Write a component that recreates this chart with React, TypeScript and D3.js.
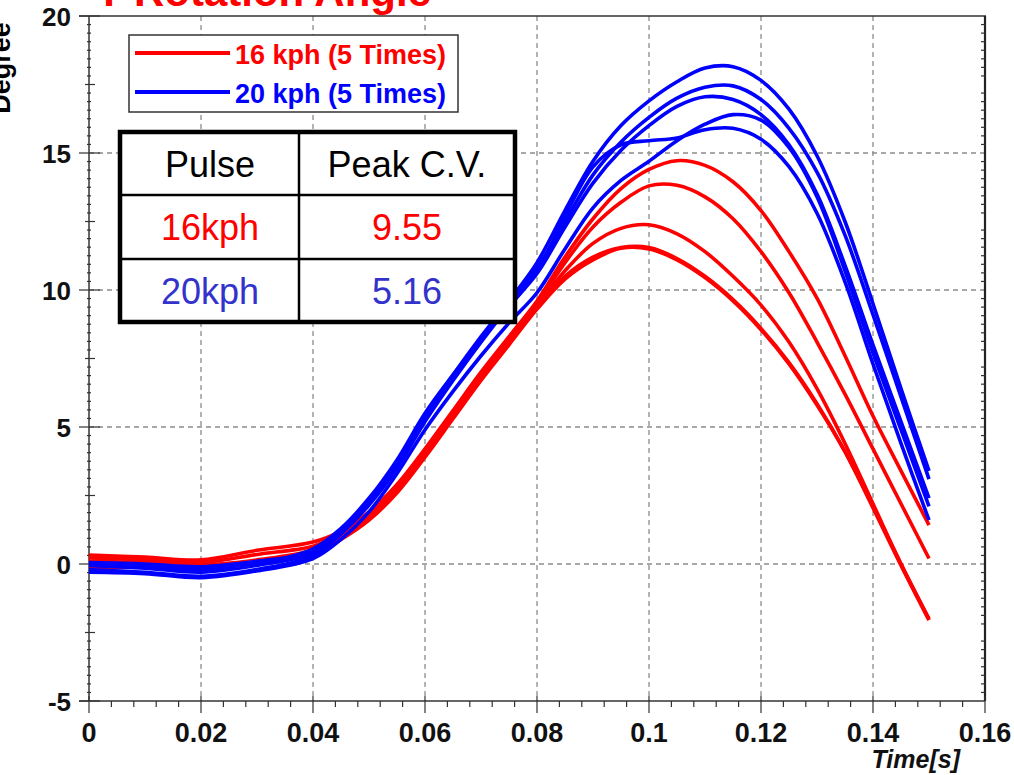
import { useEffect, useRef } from "react";
import * as d3 from "d3";

// time samples (s) shared by every run
const times = [0, 0.01, 0.02, 0.03, 0.04, 0.045, 0.05, 0.055, 0.06, 0.065, 0.07, 0.075, 0.08, 0.085, 0.09, 0.095, 0.1, 0.105, 0.11, 0.115, 0.12, 0.125, 0.13, 0.135, 0.14, 0.145, 0.15];

// 16 kph runs (degree)
const red1 = [0.33, 0.25, 0.15, 0.5, 0.8, 1.2, 1.9, 2.9, 4.2, 5.6, 7.0, 8.3, 9.6, 11.2, 12.6, 13.7, 14.4, 14.72, 14.55, 13.95, 12.9, 11.4, 9.7, 7.6, 5.4, 3.4, 1.42];
const red2 = [0.22, 0.15, 0.05, 0.35, 0.65, 1.1, 1.8, 2.8, 4.1, 5.5, 6.9, 8.2, 9.5, 11.0, 12.3, 13.2, 13.8, 13.82, 13.4, 12.6, 11.4, 9.9, 8.1, 6.2, 4.2, 2.2, 0.2];
const red3 = [0.1, 0.05, -0.05, 0.15, 0.5, 1.0, 1.7, 2.7, 4.0, 5.4, 6.8, 8.1, 9.4, 10.7, 11.7, 12.25, 12.38, 12.05, 11.4, 10.5, 9.45, 8.1, 6.4, 4.4, 2.2, 0.0, -2.0];
const red4 = [0.0, -0.05, -0.1, 0.1, 0.4, 0.9, 1.6, 2.6, 3.9, 5.3, 6.7, 8.0, 9.3, 10.4, 11.1, 11.52, 11.5, 11.1, 10.45, 9.6, 8.55, 7.3, 5.8, 4.1, 2.1, 0.0, -2.02];
const red5 = [-0.15, -0.1, -0.05, 0.1, 0.45, 0.95, 1.65, 2.65, 3.95, 5.35, 6.75, 8.05, 9.35, 10.5, 11.2, 11.55, 11.55, 11.15, 10.5, 9.65, 8.6, 7.35, 5.85, 4.1, 2.05, -0.05, -2.05];

// 20 kph runs (degree)
const blue1 = [0.05, 0.0, -0.1, 0.1, 0.45, 1.2, 2.3, 3.7, 5.4, 6.9, 8.3, 9.6, 11.0, 12.9, 14.7, 16.0, 16.9, 17.6, 18.1, 18.15, 17.65, 16.6, 14.9, 12.5, 9.5, 6.4, 3.4];
const blue2 = [-0.05, -0.15, -0.3, -0.05, 0.4, 1.15, 2.2, 3.6, 5.3, 6.8, 8.2, 9.5, 10.8, 12.5, 14.2, 15.4, 16.3, 17.0, 17.4, 17.45, 16.95, 15.9, 14.3, 12.0, 9.1, 6.1, 3.1];
const blue3 = [-0.2, -0.3, -0.45, -0.2, 0.3, 1.1, 2.15, 3.5, 5.2, 6.7, 8.1, 9.4, 10.6, 12.3, 13.9, 15.1, 16.0, 16.7, 17.05, 16.95, 16.4, 15.3, 13.5, 10.9, 8.0, 5.2, 2.4];
const blue4 = [-0.3, -0.35, -0.5, -0.25, 0.2, 0.9, 1.9, 3.3, 4.9, 6.3, 7.6, 8.8, 9.9, 11.5, 13.0, 14.0, 14.7, 15.45, 16.05, 16.4, 16.2, 15.2, 13.4, 10.7, 7.7, 4.9, 2.1];
const blue5 = [0.0, -0.1, -0.2, 0.0, 0.55, 1.3, 2.4, 3.8, 5.5, 6.9, 8.2, 9.4, 10.7, 12.7, 14.5, 15.3, 15.45, 15.55, 15.85, 15.9, 15.5, 14.5, 12.8, 10.3, 7.3, 4.4, 1.6];

const xTicks = [0, 0.02, 0.04, 0.06, 0.08, 0.1, 0.12, 0.14, 0.16];
const xTickLabels = ["0", "0.02", "0.04", "0.06", "0.08", "0.1", "0.12", "0.14", "0.16"];
const yTicks = [-5, 0, 5, 10, 15, 20];
const yTickLabels = ["-5", "0", "5", "10", "15", "20"];

const legendLabels = ["16 kph (5 Times)", "20 kph (5 Times)"];
const tableHeader = ["Pulse", "Peak C.V."];
const tablePulse = ["16kph", "20kph"];
const tableCV = ["9.55", "5.16"];

const FONT = "'Liberation Sans', Arial, sans-serif";

const App = () => {
    const svgRef = useRef<SVGSVGElement>(null);

    useEffect(() => {
        const svg = d3.select(svgRef.current);
        svg.selectAll("*").remove();

        const x = d3.scaleLinear().domain([0, 0.16]).range([89, 985]);
        const y = d3.scaleLinear().domain([-5, 20]).range([701, 16]);

        svg.append("rect").attr("width", 1014).attr("height", 775).attr("fill", "#fff");

        // title (cut off at the top like the original)
        svg.append("text")
            .attr("x", 95).attr("y", 6)
            .attr("font-family", FONT).attr("font-weight", "bold").attr("font-size", 42)
            .attr("fill", "#ff0000")
            .text("Y Rotation Angle");

        // y label
        svg.append("text")
            .attr("transform", "translate(10,68) rotate(-90)")
            .attr("text-anchor", "middle")
            .attr("font-family", FONT).attr("font-weight", "bold").attr("font-size", 27)
            .attr("fill", "#000")
            .text("Degree");

        // grid
        const grid = svg.append("g").attr("stroke", "#8c8c8c").attr("stroke-width", 1.3).attr("stroke-dasharray", "5,4");
        grid.selectAll("line.gx")
            .data(xTicks.slice(1, -1))
            .join("line")
            .attr("x1", d => x(d)).attr("x2", d => x(d))
            .attr("y1", y(20)).attr("y2", y(-5));
        grid.selectAll("line.gy")
            .data([0, 5, 10, 15])
            .join("line")
            .attr("class", "gy")
            .attr("x1", x(0)).attr("x2", x(0.16))
            .attr("y1", d => y(d)).attr("y2", d => y(d));

        // frame
        const frame = svg.append("g").attr("stroke", "#333");
        frame.append("line").attr("x1", 89).attr("x2", 89).attr("y1", y(20)).attr("y2", y(-5)).attr("stroke-width", 1.5);
        frame.append("line").attr("x1", 79).attr("x2", x(0.16)).attr("y1", y(-5)).attr("y2", y(-5)).attr("stroke-width", 1.5);
        frame.append("line").attr("x1", 79).attr("x2", x(0.16) + 1).attr("y1", y(20)).attr("y2", y(20)).attr("stroke-width", 1.5);
        frame.append("line").attr("x1", x(0.16)).attr("x2", x(0.16)).attr("y1", y(20)).attr("y2", y(-5)).attr("stroke-width", 2.2).attr("stroke", "#222");

        // y ticks
        const minorY = d3.range(-5, 20.0001, 0.3125).filter(v => Math.abs(v / 2.5 - Math.round(v / 2.5)) > 1e-6);
        const midY = [-2.5, 2.5, 7.5, 12.5, 17.5];
        const ticks = svg.append("g").attr("stroke", "#333").attr("stroke-width", 1.2);
        ticks.selectAll("line.ym").data(yTicks).join("line").attr("class", "ym")
            .attr("x1", 79).attr("x2", 100).attr("y1", d => y(d)).attr("y2", d => y(d));
        ticks.selectAll("line.yh").data(midY).join("line").attr("class", "yh")
            .attr("x1", 85).attr("x2", 95).attr("y1", d => y(d)).attr("y2", d => y(d));
        ticks.selectAll("line.yn").data(minorY).join("line").attr("class", "yn")
            .attr("x1", 87).attr("x2", 91).attr("y1", d => y(d)).attr("y2", d => y(d));
        ticks.selectAll("line.yr").data(minorY).join("line").attr("class", "yr")
            .attr("x1", x(0.16) - 4).attr("x2", x(0.16)).attr("y1", d => y(d)).attr("y2", d => y(d));

        // x ticks
        const minorX = d3.range(0, 0.16001, 0.004).filter(v => Math.abs(v / 0.02 - Math.round(v / 0.02)) > 1e-6);
        ticks.selectAll("line.xm").data(xTicks).join("line").attr("class", "xm")
            .attr("x1", d => x(d)).attr("x2", d => x(d)).attr("y1", 696).attr("y2", 713);
        ticks.selectAll("line.xn").data(minorX).join("line").attr("class", "xn")
            .attr("x1", d => x(d)).attr("x2", d => x(d)).attr("y1", 701).attr("y2", 707);

        // tick labels
        svg.append("g")
            .attr("font-family", FONT).attr("font-weight", "bold").attr("font-size", 26).attr("fill", "#111")
            .attr("text-anchor", "end")
            .selectAll("text").data(yTicks).join("text")
            .attr("x", 71).attr("y", d => y(d) + 9.5)
            .text((_, i) => yTickLabels[i]);
        svg.append("g")
            .attr("font-family", FONT).attr("font-weight", "bold").attr("font-size", 27).attr("fill", "#111")
            .attr("text-anchor", "middle")
            .selectAll("text").data(xTicks).join("text")
            .attr("x", d => x(d)).attr("y", 742)
            .text((_, i) => xTickLabels[i]);

        svg.append("text")
            .attr("x", 960).attr("y", 768).attr("text-anchor", "end")
            .attr("font-family", FONT).attr("font-weight", "bold").attr("font-style", "italic").attr("font-size", 25)
            .attr("fill", "#111")
            .text("Time[s]");

        // curves
        const line = d3.line<number>()
            .x((_, i) => x(times[i]))
            .y(d => y(d))
            .curve(d3.curveCatmullRom.alpha(0.5));

        svg.append("g").attr("fill", "none").attr("stroke", "#ff0000").attr("stroke-width", 3.6)
            .selectAll("path").data([red1, red2, red3, red4, red5]).join("path")
            .attr("d", d => line(d));
        svg.append("g").attr("fill", "none").attr("stroke", "#0000ff").attr("stroke-width", 3.6)
            .selectAll("path").data([blue1, blue2, blue3, blue4, blue5]).join("path")
            .attr("d", d => line(d));

        // legend
        const legend = svg.append("g");
        legend.append("rect").attr("x", 129).attr("y", 35).attr("width", 329).attr("height", 77)
            .attr("fill", "#fff").attr("stroke", "#333").attr("stroke-width", 1.5);
        const legendColors = ["#ff0000", "#0000ff"];
        legendLabels.forEach((label, i) => {
            const ly = 53 + i * 39;
            legend.append("line").attr("x1", 135).attr("x2", 230).attr("y1", ly).attr("y2", ly)
                .attr("stroke", legendColors[i]).attr("stroke-width", 4);
            legend.append("text").attr("x", 235).attr("y", ly + 11)
                .attr("font-family", FONT).attr("font-weight", "bold").attr("font-size", 27)
                .attr("fill", legendColors[i]).text(label);
        });

        // table
        const table = svg.append("g");
        table.append("rect").attr("x", 120).attr("y", 132).attr("width", 395).attr("height", 190)
            .attr("fill", "#fff").attr("stroke", "#000").attr("stroke-width", 4.5);
        table.append("line").attr("x1", 299).attr("x2", 299).attr("y1", 132).attr("y2", 322).attr("stroke", "#000").attr("stroke-width", 2.5);
        [195, 259].forEach(ry => {
            table.append("line").attr("x1", 120).attr("x2", 515).attr("y1", ry).attr("y2", ry).attr("stroke", "#000").attr("stroke-width", 2.5);
        });
        const rowColors = ["#ff0000", "#3333cc"];
        const cellText = (cx: number, cy: number, txt: string, col: string) =>
            table.append("text").attr("x", cx).attr("y", cy).attr("text-anchor", "middle")
                .attr("font-family", FONT).attr("font-size", 36).attr("fill", col).text(txt);
        cellText(210, 177, tableHeader[0], "#000");
        cellText(407, 177, tableHeader[1], "#000");
        tablePulse.forEach((p, i) => {
            cellText(210, 240 + i * 64, p, rowColors[i]);
            cellText(407, 240 + i * 64, tableCV[i], rowColors[i]);
        });
    }, []);

    return (
        <svg
            ref={svgRef}
            width={1014}
            height={775}
            style={{ position: "absolute", left: 0, top: 0 }}
        />
    );
};

export default App;
